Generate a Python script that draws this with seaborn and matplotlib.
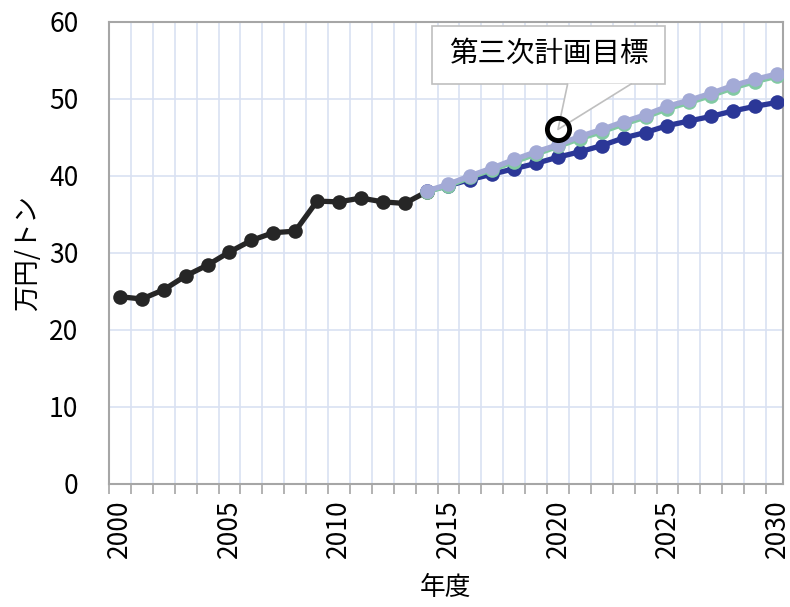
import matplotlib
matplotlib.use("Agg")
import matplotlib.pyplot as plt
from matplotlib.patches import Rectangle, Polygon
from matplotlib.ticker import FixedLocator
import seaborn as sns
import pandas as pd

# ---- data ----
hist_years = list(range(2000, 2015))
hist_values = [24.3, 24.0, 25.2, 27.0, 28.4, 30.1, 31.6, 32.6, 32.8, 36.7,
               36.6, 37.1, 36.6, 36.4, 37.9]
proj_years = list(range(2014, 2031))
proj_lavender = [38.0, 38.9, 40.0, 41.0, 42.1, 43.1, 44.0, 45.1, 46.0, 47.0,
                 47.9, 49.0, 49.8, 50.7, 51.7, 52.5, 53.2]
proj_green = [37.9, 38.7, 39.8, 40.8, 41.8, 42.8, 43.8, 44.8, 45.7, 46.7,
              47.6, 48.7, 49.5, 50.4, 51.4, 52.2, 52.9]
proj_dark = [38.0, 38.7, 39.5, 40.2, 40.9, 41.6, 42.4, 43.1, 43.9, 44.9,
             45.6, 46.5, 47.1, 47.7, 48.4, 49.0, 49.5]
target_year = 2020
target_value = 46.0
target_label = "第三次計画目標"
x_ticklabels = [2000, 2005, 2010, 2015, 2020, 2025, 2030]
y_ticks = [0, 10, 20, 30, 40, 50, 60]
x_title = "年度"
y_title = "万円/トン"

sns.set_theme(style="white")
plt.rcParams['font.family'] = ['Noto Sans CJK JP', 'DejaVu Sans']
plt.rcParams['text.color'] = 'black'
plt.rcParams['axes.labelcolor'] = 'black'
plt.rcParams['xtick.color'] = 'black'
plt.rcParams['ytick.color'] = 'black'

fig = plt.figure(figsize=(7.9, 6.07), dpi=100)
ax = fig.add_axes([109/790, 1-484/607, (782.7-109)/790, (484-21.5)/607])

lw = 3.8
ms = 10.5
df_hist = pd.DataFrame({"year": hist_years, "v": hist_values})
sns.lineplot(data=df_hist, x="year", y="v", ax=ax, color="#262626", lw=lw,
             marker="o", markersize=ms, markeredgewidth=0, zorder=3)
for vals, col, z in [(proj_dark, "#2B3797", 4), (proj_green, "#82C9A3", 5),
                     (proj_lavender, "#A3AAD6", 6)]:
    d = pd.DataFrame({"year": proj_years, "v": vals})
    sns.lineplot(data=d, x="year", y="v", ax=ax, color=col, lw=lw,
                 marker="o", markersize=ms, markeredgewidth=0, zorder=z)

ax.set_xlim(1999.5, 2030.26)
ax.set_ylim(0, 60)

# grid / ticks
bounds = [y - 0.5 for y in range(2000, 2031)]
ax.xaxis.set_major_locator(FixedLocator(x_ticklabels))
ax.xaxis.set_minor_locator(FixedLocator(bounds))
ax.set_xticklabels([str(v) for v in x_ticklabels], rotation=90, fontsize=19)
ax.tick_params(axis="x", which="major", length=0, pad=11)
ax.tick_params(axis="x", which="minor", length=7, width=1.2, color="#A6A6A6",
               direction="out", bottom=True)
ax.set_yticks(y_ticks)
ax.set_yticklabels([str(v) for v in y_ticks], fontsize=19)
ax.tick_params(axis="y", length=0, pad=22)
ax.grid(False)
ax.xaxis.grid(True, which="minor", color="#D9E1F2", lw=1.2)
ax.yaxis.grid(True, which="major", color="#D9E1F2", lw=1.2)
ax.set_axisbelow(True)
for s in ax.spines.values():
    s.set_color("#A6A6A6")
    s.set_linewidth(1.5)

ax.set_xlabel(x_title, fontsize=18.5, labelpad=12)
ax.set_ylabel(y_title, fontsize=19, labelpad=6)

# callout
bx0, bx1, by0, by1 = 2014.25, 2024.89, 51.9, 59.4
wb0, wb1 = 2020.44, 2023.34
box = Rectangle((bx0, by0), bx1 - bx0, by1 - by0, facecolor="white",
                edgecolor="#BFBFBF", lw=1.2, zorder=8)
ax.add_patch(box)
wedge = Polygon([(wb0, by0 + 0.05), (target_year, target_value), (wb1, by0 + 0.05)],
                closed=True, facecolor="white", edgecolor="none", zorder=9)
ax.add_patch(wedge)
ax.plot([wb0, target_year, wb1], [by0, target_value, by0], color="#BFBFBF",
        lw=1.2, zorder=10)
ax.text((bx0 + bx1) / 2, (by0 + by1) / 2 + 0.1, target_label, ha="center",
        va="center", fontsize=20.5, color="black", zorder=11)
ax.plot([target_year], [target_value], marker="o", markersize=16,
        markerfacecolor="none", markeredgecolor="black", markeredgewidth=3.5,
        zorder=12)

fig.savefig("out.png", dpi=100)
